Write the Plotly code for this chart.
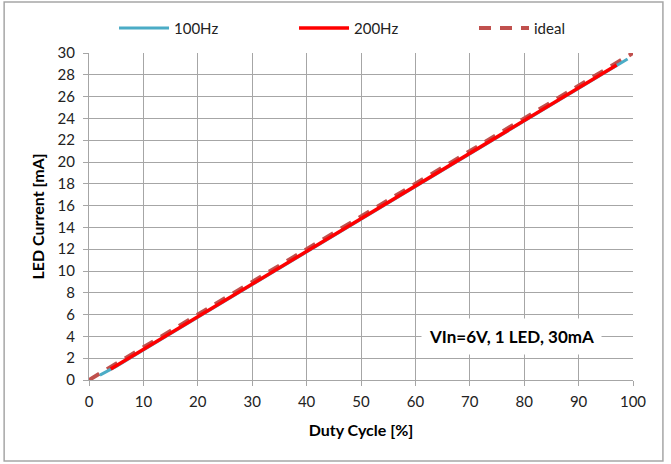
import plotly.graph_objects as go

# Data
duty_100 = [2, 5, 10, 15, 20, 25, 30, 35, 40, 45, 50, 55, 60, 65, 70, 75, 80, 85, 90, 95, 99]
curr_100 = [0.45, 1.25, 2.75, 4.25, 5.75, 7.25, 8.75, 10.25, 11.75, 13.3, 14.75, 16.25,
            17.75, 19.3, 20.75, 22.25, 23.75, 25.25, 26.75, 28.25, 29.45]
duty_200 = [4, 5, 10, 15, 20, 25, 30, 35, 40, 45, 50, 55, 60, 65, 70, 75, 80, 85, 90, 95, 97]
curr_200 = [1.0, 1.3, 2.8, 4.3, 5.8, 7.3, 8.8, 10.3, 11.8, 13.3, 14.8, 16.3,
            17.8, 19.3, 20.8, 22.3, 23.8, 25.3, 26.8, 28.3, 28.9]
duty_ideal = [0, 100]
curr_ideal = [0, 30]
x_ticks = list(range(0, 101, 10))
y_ticks = list(range(0, 31, 2))

FONT = "Lato, Open Sans, sans-serif"

fig = go.Figure()
fig.add_trace(go.Scatter(x=duty_ideal, y=curr_ideal, mode="lines", name="ideal", legendrank=3,
                         line=dict(color="#C0504D", width=4, dash="12px,9px")))
fig.add_trace(go.Scatter(x=duty_100, y=curr_100, mode="lines", name="100Hz", legendrank=1,
                         line=dict(color="#4BACC6", width=3)))
fig.add_trace(go.Scatter(x=duty_200, y=curr_200, mode="lines", name="200Hz", legendrank=2,
                         line=dict(color="#FF0000", width=3.5)))

axis_common = dict(showgrid=True, gridcolor="#A6A6A6", gridwidth=1,
                   showline=True, linecolor="#A6A6A6", linewidth=1,
                   ticks="outside", ticklen=5, tickcolor="#A6A6A6",
                   zeroline=False, tickfont=dict(family=FONT, size=15, color="#222"))

fig.update_xaxes(range=[0, 100], tickvals=x_ticks, mirror=False, ticklabelstandoff=3,
                 title=dict(text="<b>Duty Cycle [%]</b>", font=dict(family=FONT, size=16, color="#000"),
                            standoff=15),
                 **axis_common)
fig.update_yaxes(range=[0, 30], tickvals=y_ticks, ticklabelstandoff=5,
                 title=dict(text="<b>LED Current [mA]</b>", font=dict(family=FONT, size=16, color="#000"),
                            standoff=8),
                 **axis_common)

fig.add_annotation(x=77.6, y=3.95, xref="x", yref="y", text="<b>VIn=6V, 1 LED, 30mA</b>",
                   showarrow=False, bgcolor="white", borderpad=7,
                   font=dict(family=FONT, size=17, color="#000"))

fig.add_shape(type="rect", xref="paper", yref="paper",
              x0=-0.156, x1=1.055, y0=-0.248, y1=1.156,
              line=dict(color="#A6A6A6", width=1.5), layer="below")

fig.update_layout(
    width=671, height=464,
    margin=dict(l=89, r=38, t=53, b=84, autoexpand=False),
    plot_bgcolor="white", paper_bgcolor="white",
    legend=dict(orientation="h", x=0.046, y=1.076, xanchor="left", yanchor="middle",
                font=dict(family=FONT, size=15, color="#222"),
                itemwidth=50, entrywidth=115, bgcolor="rgba(0,0,0,0)"),
    showlegend=True,
)

fig.write_html("out.html", config={"displayModeBar": False},
               post_script="document.body.style.margin='0';document.body.style.overflow='hidden';")
